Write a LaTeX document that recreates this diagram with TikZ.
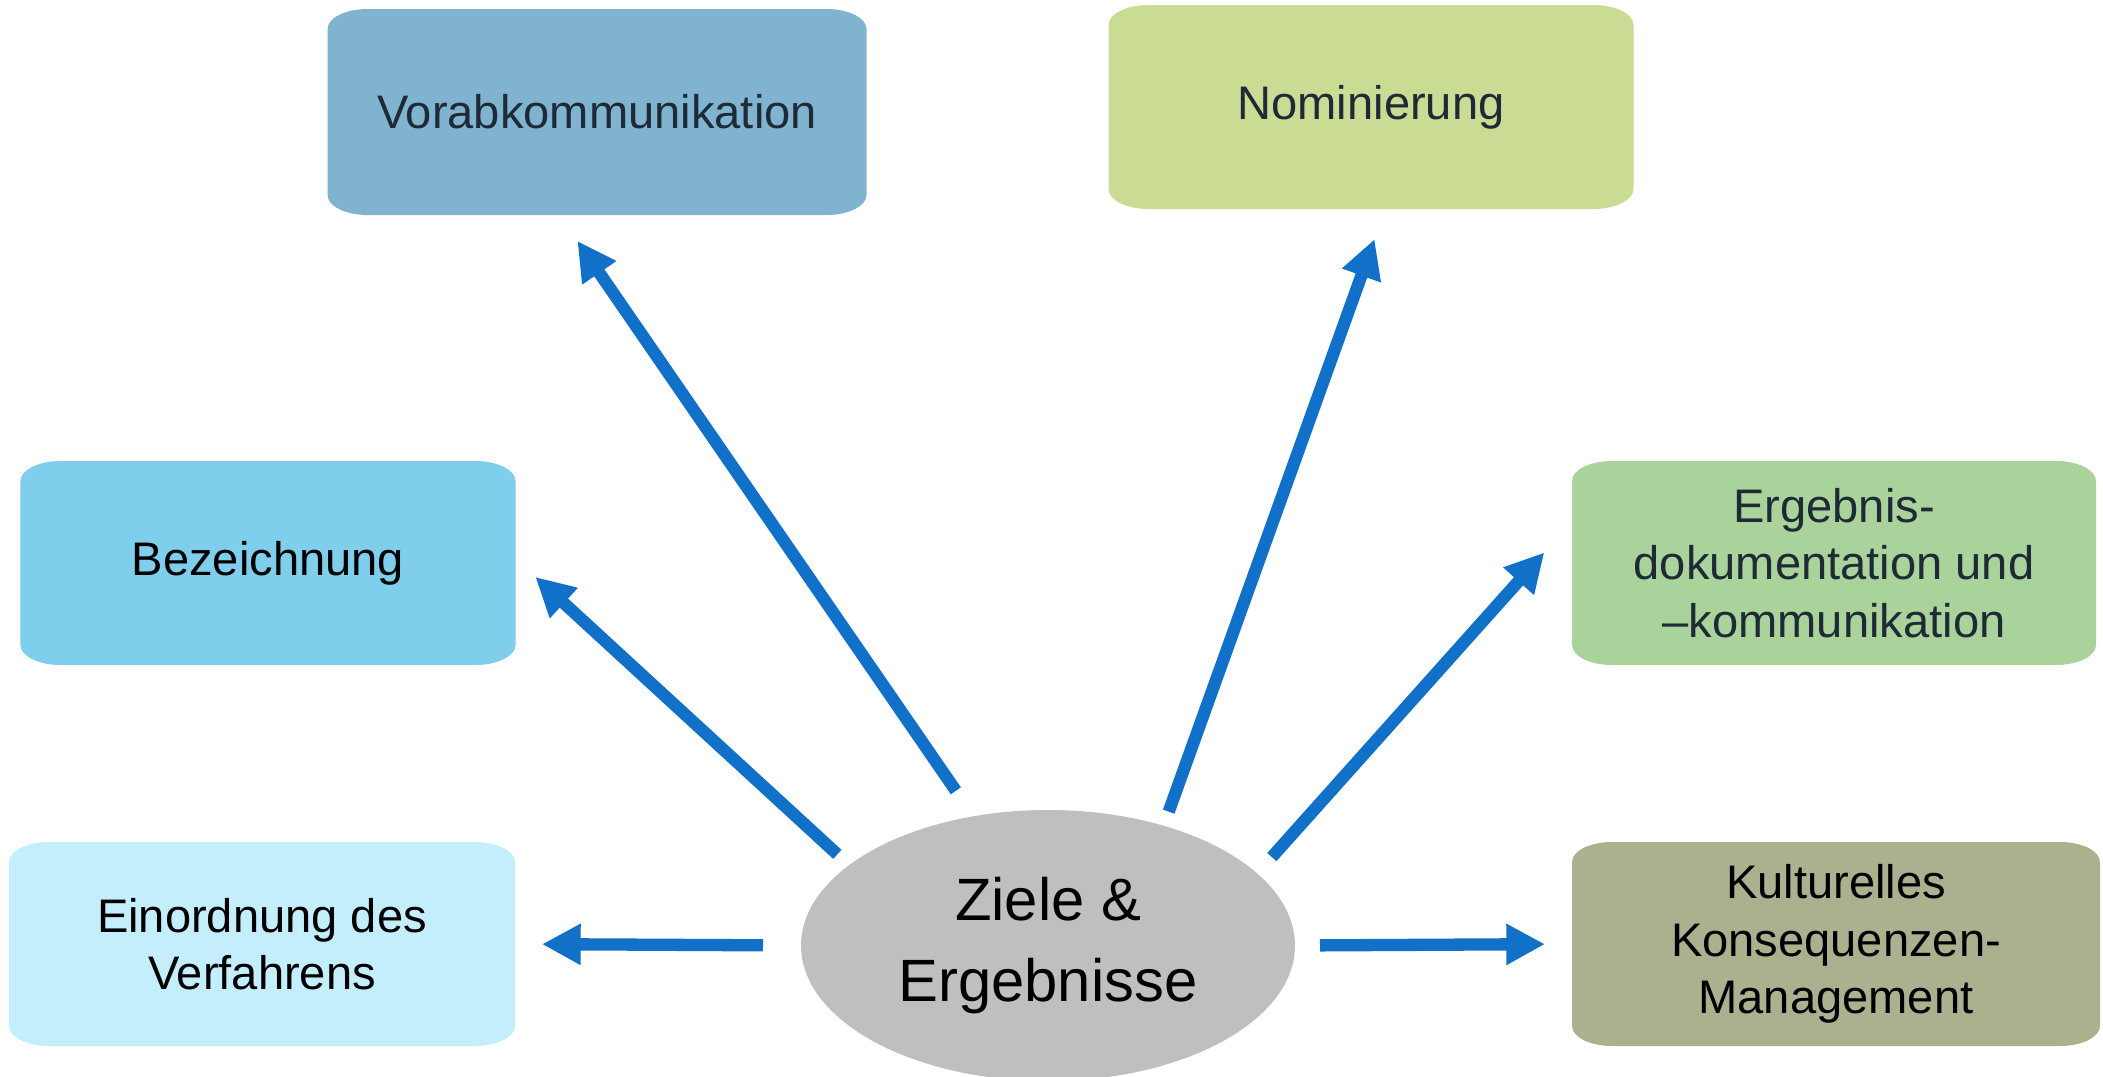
\documentclass[tikz,border=0pt]{standalone}
\usepackage{fontspec}
\setmainfont{Liberation Sans}
\usetikzlibrary{arrows.meta,shapes.geometric}

\definecolor{vorabblue}{HTML}{7FB3D0}
\definecolor{nomgreen}{HTML}{CADB94}
\definecolor{bezblue}{HTML}{7FCEEC}
\definecolor{erggreen}{HTML}{A9D39A}
\definecolor{einlight}{HTML}{C5EEFD}
\definecolor{kultolive}{HTML}{ABB18F}
\definecolor{goalgray}{HTML}{BFBFBF}
\definecolor{spokeblue}{HTML}{1170C8}
\definecolor{darktext}{HTML}{1E2A36}

\tikzset{
  cardfill/.style={path picture={
      \path (path picture bounding box.south west) coordinate (csw)
            (path picture bounding box.north east) coordinate (cne)
            (path picture bounding box.north west) coordinate (cnw)
            (path picture bounding box.south east) coordinate (cse);
      \fill[#1] ([xshift=4mm]cnw) -- ([xshift=-4mm]cne)
        arc[start angle=90,end angle=0,x radius=4mm,y radius=2mm] -- ([yshift=2mm]cse)
        arc[start angle=0,end angle=-90,x radius=4mm,y radius=2mm] -- ([xshift=4mm]csw)
        arc[start angle=270,end angle=180,x radius=4mm,y radius=2mm] -- ([yshift=-2mm]cnw)
        arc[start angle=180,end angle=90,x radius=4mm,y radius=2mm] -- cycle;}},
  card/.style 2 args={cardfill=#2, minimum width=#1, minimum height=2.04cm,
    inner sep=0pt, outer sep=0pt, align=center,
    font=\fontsize{13.4}{16.4}\selectfont},
  spoke/.style={draw=spokeblue, line width=3.5pt, -{Triangle[length=11pt,width=11pt]}}
}

\begin{document}
\begin{tikzpicture}
  \useasboundingbox (0,0) rectangle (21.03,-10.76);

  \node[card={5.39cm}{vorabblue}, minimum height=2.06cm, text=darktext] (vorab) at (5.97,-1.12) {Vorabkommunikation};
  \node[card={5.25cm}{nomgreen}, text=darktext] (nomin) at (13.71,-1.07) {Nominierung};
  \node[card={4.95cm}{bezblue}] (bez) at (2.68,-5.63) {Bezeichnung};
  \node[card={5.24cm}{erggreen}, text=darktext] (erg) at (18.34,-5.63) {Ergebnis-\\dokumentation und\\–kommunikation};
  \node[card={5.06cm}{einlight}] (einord) at (2.62,-9.44) {Einordnung des\\Verfahrens};
  \node[card={5.28cm}{kultolive}] (kult) at (18.36,-9.44) {Kulturelles\\Konsequenzen-\\Management};

  \node[ellipse, fill=goalgray, minimum width=4.94cm, minimum height=2.71cm, inner sep=0pt, outer sep=0pt,
        align=center, font=\fontsize{17}{22.8}\selectfont] (goal) at (10.48,-9.455) {Ziele \&\\Ergebnisse};

  \draw[spoke, shorten <=0.31cm, shorten >=0.315cm] (goal.120.5) -- (vorab.250.7);
  \draw[spoke, shorten <=0.16cm, shorten >=0.27cm] (goal.158.1) -- (bez.1.8);
  \draw[spoke, shorten <=0.38cm, shorten >=0.27cm] (goal.west) -- (einord.east);
  \draw[spoke, shorten <=0.15cm, shorten >=0.32cm] (goal.46.9) -- (nomin.278.4);
  \draw[spoke, shorten <=0.22cm, shorten >=0.415cm] (goal.19.9) -- (erg.171.2);
  \draw[spoke, shorten <=0.25cm, shorten >=0.27cm] (goal.east) -- (kult.west);
\end{tikzpicture}
\end{document}
